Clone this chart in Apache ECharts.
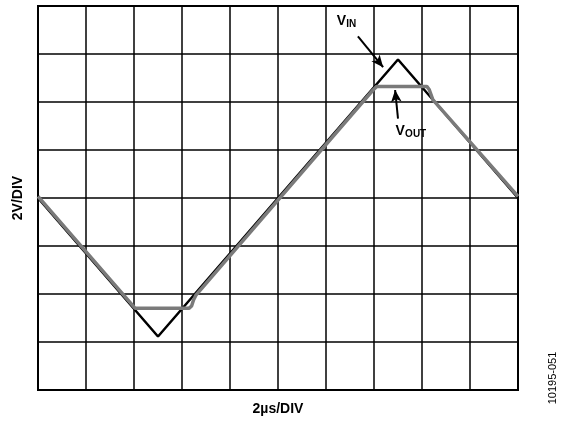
<!DOCTYPE html>
<html>
<head>
<meta charset="utf-8">
<script src="https://cdn.jsdelivr.net/npm/echarts@6/dist/echarts.min.js"></script>
<style>
html,body{margin:0;padding:0;background:#fff;}
#main{width:567px;height:421px;}
</style>
</head>
<body>
<div id="main"></div>
<script>
// time in us, voltage in V (2 us/div, 2 V/div)
var vinData = [[0, 0], [5, -5.77], [15, 5.77], [20, 0]];
var voutData = [
    [0, 0.07], [4.04, -4.59], [6.3, -4.59], [6.4, -4.5], [6.48, -4.25], [6.58, -4.05],
    [13.96, 4.5], [14.12, 4.65], [16.2, 4.65], [16.3, 4.52], [16.45, 4.1], [20, 0.07]
];
var xAxisName = '2\u00b5s/DIV';
var yAxisName = '2V/DIV';

var myChart = echarts.init(document.getElementById('main'));
var option = {
    animation: false,
    grid: {
        left: 38, right: 49, top: 6, bottom: 31,
        show: true, borderColor: '#000', borderWidth: 2
    },
    xAxis: {
        type: 'value', min: 0, max: 20, interval: 2,
        name: xAxisName, nameLocation: 'middle', nameGap: 12,
        nameTextStyle: {fontFamily: 'Liberation Sans', fontWeight: 'bold', fontSize: 14, color: '#000'},
        axisLine: {show: false}, axisTick: {show: false}, axisLabel: {show: false},
        splitLine: {lineStyle: {color: '#000', width: 1.5}}
    },
    yAxis: {
        type: 'value', min: -8, max: 8, interval: 2,
        name: yAxisName, nameLocation: 'middle', nameGap: 13, nameRotate: 90,
        nameTextStyle: {fontFamily: 'Liberation Sans', fontWeight: 'bold', fontSize: 14, color: '#000'},
        axisLine: {show: false}, axisTick: {show: false}, axisLabel: {show: false},
        splitLine: {lineStyle: {color: '#000', width: 1.5}}
    },
    series: [
        {
            name: 'VIN', type: 'line', data: vinData, symbol: 'none',
            lineStyle: {color: '#000', width: 2.5},
            markLine: {
                silent: true, symbol: ['none', 'arrow'], symbolSize: [8, 12],
                label: {show: false},
                lineStyle: {color: '#000', width: 2, type: 'solid'},
                data: [
                    [{coord: [13.33, 6.73]}, {coord: [14.38, 5.45]}],
                    [{coord: [15.0, 3.31]}, {coord: [14.88, 4.5]}]
                ]
            }
        },
        {
            name: 'VOUT', type: 'line', data: voutData, symbol: 'none',
            lineStyle: {color: '#7a7a7a', width: 3.5}
        }
    ]
};
myChart.setOption(option);

function label(t, v, sub) {
    var p = myChart.convertToPixel({gridIndex: 0}, [t, v]);
    return [
        {type: 'text', x: p[0], y: p[1], style: {text: 'V', fontFamily: 'Liberation Sans', fontWeight: 'bold', fontSize: 14, fill: '#000', textVerticalAlign: 'middle'}},
        {type: 'text', x: p[0] + 9.5, y: p[1] + 3, style: {text: sub, fontFamily: 'Liberation Sans', fontWeight: 'bold', fontSize: 10, fill: '#000', textVerticalAlign: 'middle'}}
    ];
}
var g = [].concat(label(12.45, 7.35, 'IN'), label(14.9, 2.8, 'OUT'));
g.push({type: 'text', x: 553, y: 378, rotation: Math.PI / 2,
    style: {text: '10195-051', fontFamily: 'Liberation Sans', fontSize: 11, fill: '#000', textAlign: 'center', textVerticalAlign: 'middle'}});
myChart.setOption({graphic: g});
</script>
</body>
</html>
